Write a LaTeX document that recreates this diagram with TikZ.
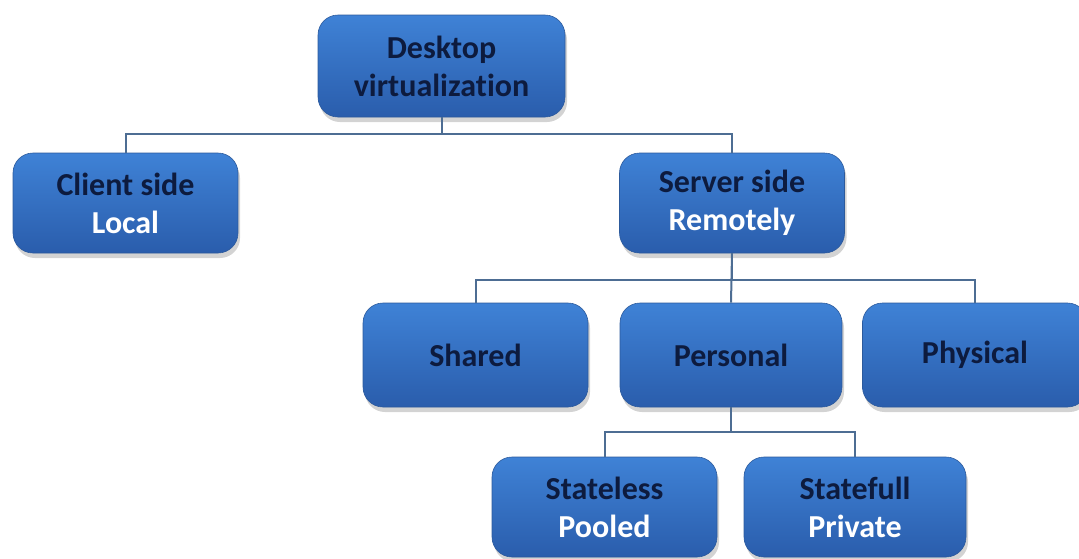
\documentclass[tikz,border=0pt]{standalone}
\usepackage{fontspec}
\setmainfont{Carlito}[Ligatures=NoCommon]
\usetikzlibrary{shadows}
\definecolor{boxtop}{HTML}{3F82D6}
\definecolor{boxbot}{HTML}{2A5DAC}
\definecolor{boxedge}{HTML}{2C5A9C}
\definecolor{darktxt}{HTML}{0D1B3E}
\definecolor{linecol}{HTML}{4D6D93}
\tikzset{
  box/.style={draw=boxedge, line width=0.6pt, rounded corners=20pt,
    top color=boxtop, bottom color=boxbot,
    drop shadow={opacity=0.35, shadow xshift=2pt, shadow yshift=-5pt},
    minimum width=225pt, minimum height=100pt, inner sep=0pt,
    align=center, font=\fontsize{32}{38}\selectfont\bfseries, text=darktxt},
  conn/.style={draw=linecol, line width=2pt},
}
\newcommand{\wline}[1]{\textcolor{white}{#1}}
\begin{document}
\begin{tikzpicture}[x=1pt, y=-1pt]
\useasboundingbox (0,0) rectangle (1079,558);
\node[box, minimum width=247pt, minimum height=102pt] (desk) at (441.5,66) {Desktop\\virtualization};
\node[box] (client) at (125.5,203) {Client side\\\wline{Local}};
\node[box] (server) at (732,203) {Server side\\\wline{Remotely}};
\node[box, minimum height=104pt] (shared) at (475.5,355) {Shared};
\node[box, minimum width=222pt, minimum height=104pt] (personal) at (731,355) {Personal};
\node[box, minimum height=104pt] (physical) at (975,355) {Physical};
\node[box] (stateless) at (604.5,507) {Stateless\\\wline{Pooled}};
\node[box, minimum width=222pt] (statefull) at (855,507) {Statefull\\\wline{Private}};
\draw[conn] (desk.south) -- ++(0,17) -| (client.north);
\draw[conn] (desk.south) -- ++(0,17) -| (server.north);
\draw[conn] (server.south) -- ++(0,27) -| (shared.north);
\draw[conn] (server.south) -- (personal.north);
\draw[conn] (server.south) -- ++(0,27) -| (physical.north);
\draw[conn] (personal.south) -- ++(0,25) -| (stateless.north);
\draw[conn] (personal.south) -- ++(0,25) -| (statefull.north);
\end{tikzpicture}
\end{document}
